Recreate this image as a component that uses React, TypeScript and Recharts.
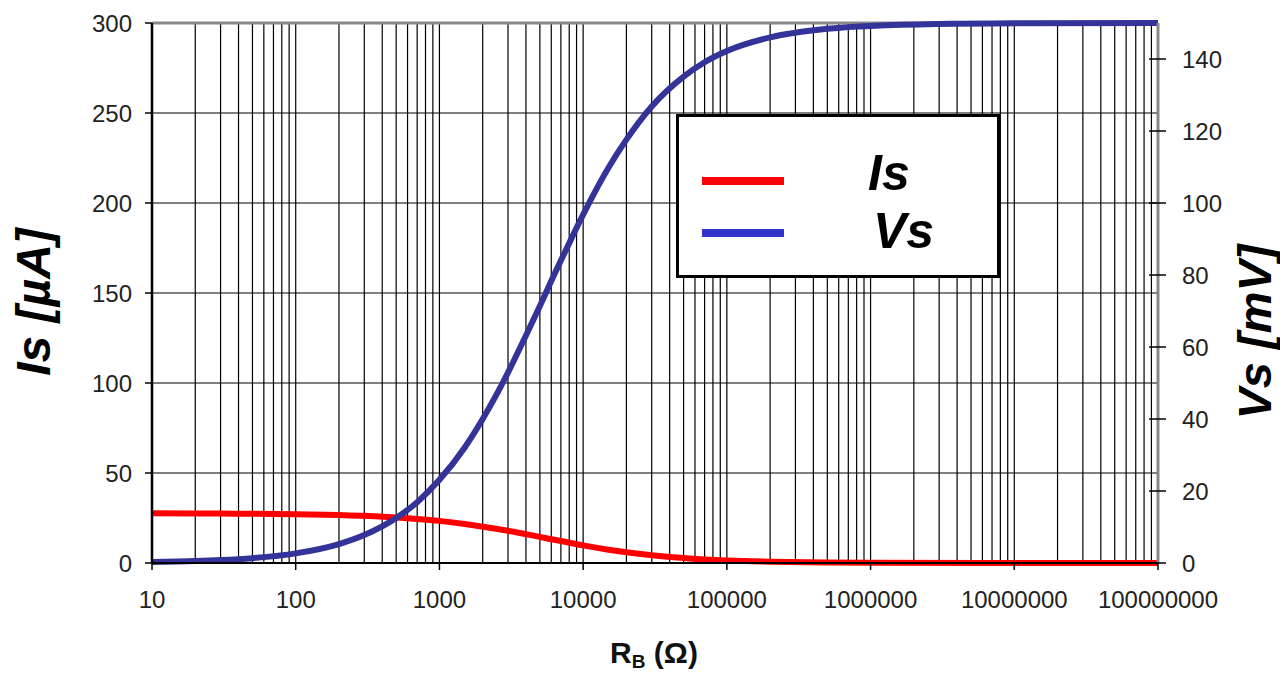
import React from "react";
import {
  LineChart,
  Line,
  XAxis,
  YAxis,
  CartesianGrid,
  ReferenceLine,
  Legend,
} from "recharts";

const R_VALUES = [10, 20, 30, 50, 100, 200, 300, 500, 700, 1000, 1500, 2000, 3000, 4000, 5000, 6000, 7000, 10000, 15000, 20000, 30000, 50000, 70000, 100000, 200000, 500000, 1000000, 10000000, 100000000];
const IS_VALUES = [27.6, 27.5, 27.45, 27.35, 27.1, 26.6, 26.2, 25.3, 24.5, 23.4, 21.7, 20.2, 17.9, 16.0, 14.5, 13.2, 12.2, 9.8, 7.4, 5.95, 4.28, 2.73, 2.01, 1.44, 0.74, 0.3, 0.15, 0.02, 0];
const VS_VALUES = [0.27, 0.54, 0.81, 1.35, 2.68, 5.26, 7.76, 12.5, 16.9, 23.1, 32.1, 40.0, 52.9, 63.2, 71.4, 78.3, 84.0, 96.8, 109.8, 117.6, 126.8, 135.1, 139.1, 142.2, 146.0, 148.4, 149.2, 149.9, 150];

const X_TICKS = [10, 100, 1000, 10000, 100000, 1000000, 10000000, 100000000];
const DECADES = [10, 100, 1000, 10000, 100000, 1000000, 10000000];
const MULTIPLIERS = [1, 2, 3, 4, 5, 6, 7, 8, 9];
const LEFT_TICKS = [0, 50, 100, 150, 200, 250, 300];
const RIGHT_TICKS = [0, 20, 40, 60, 80, 100, 120, 140];

const SERIES_NAMES = ["Is", "Vs"];
const LINE_COLORS = { Is: "#ff0000", Vs: "#333399" };
const LEGEND_COLORS = { Is: "#ff0000", Vs: "#3333cc" };

const data = R_VALUES.map((r, i) => ({ r, Is: IS_VALUES[i], Vs: VS_VALUES[i] }));
const GRID_TICKS = [...DECADES.flatMap((d) => MULTIPLIERS.map((m) => d * m)), 100000000];

const FONT = "'Liberation Sans', Arial, Helvetica, sans-serif";
const TICK_FONT = 24;
const RIGHT_TICK_SIZE = 8;
const RIGHT_TICK_MARGIN = 16;

const RightTick = (props: any) => {
  const { x, y, payload } = props;
  const ax = x - RIGHT_TICK_SIZE - RIGHT_TICK_MARGIN;
  return (
    <g>
      <line x1={ax - 9} x2={ax} y1={y} y2={y} stroke="#000" strokeWidth={1.5} />
      <text x={x} y={y} dy="0.355em" textAnchor="start" fontSize={TICK_FONT} fontFamily={FONT} fill="#222">
        {payload.value}
      </text>
    </g>
  );
};

const leftTitle = (props: any) => {
  const vb = props.viewBox || { x: 0, y: 15, width: 144, height: 540 };
  const cx = vb.x + 42;
  const cy = vb.y + vb.height / 2 + 9;
  return (
    <text
      x={cx}
      y={cy}
      transform={`rotate(-90 ${cx} ${cy})`}
      textAnchor="middle"
      fontSize={48}
      fontWeight="bold"
      fontStyle="italic"
      fontFamily={FONT}
      fill="#000"
    >
      Is [µA]
    </text>
  );
};

const rightTitle = (props: any) => {
  const vb = props.viewBox || { x: 1150, y: 15, width: 130, height: 540 };
  const cx = vb.x + 113;
  const cy = vb.y + vb.height / 2 + 39;
  return (
    <text
      x={cx}
      y={cy}
      transform={`rotate(-90 ${cx} ${cy})`}
      textAnchor="middle"
      fontSize={47}
      fontWeight="bold"
      fontStyle="italic"
      fontFamily={FONT}
      fill="#000"
    >
      Vs [mV]
    </text>
  );
};

const xTitle = (props: any) => {
  const vb = props.viewBox || { x: 144, y: 555, width: 1006, height: 133 };
  const cx = vb.x + vb.width / 2 - 1;
  const cy = vb.y + 100;
  return (
    <text x={cx} y={cy} textAnchor="middle" fontSize={30} fontWeight="bold" fontFamily={FONT} fill="#111">
      R
      <tspan dy={5} fontSize={19}>B</tspan>
      <tspan dy={-5}> (Ω)</tspan>
    </text>
  );
};

const LegendBox = () => (
  <div
    style={{
      position: "relative",
      width: 324,
      height: 164,
      boxSizing: "border-box",
      border: "3px solid #000",
      background: "#fff",
      fontFamily: FONT,
    }}
  >
    {SERIES_NAMES.map((name, i) => (
      <React.Fragment key={name}>
        <div
          style={{
            position: "absolute",
            left: 23,
            top: 60 + i * 52,
            width: 82,
            height: 8,
            background: (LEGEND_COLORS as any)[name],
          }}
        />
        <div
          style={{
            position: "absolute",
            left: 189 + i * 5,
            top: 31 + i * 58,
            fontSize: 50,
            lineHeight: "50px",
            fontWeight: "bold",
            fontStyle: "italic",
            color: "#000",
            whiteSpace: "nowrap",
          }}
        >
          {name}
        </div>
      </React.Fragment>
    ))}
  </div>
);

export default function App() {
  return (
    <div style={{ width: 1280, height: 688, background: "#fff" }}>
      <LineChart width={1280} height={688} data={data} margin={{ top: 15, right: 0, bottom: 0, left: 0 }}>
        <XAxis
          xAxisId="minor"
          dataKey="r"
          type="number"
          scale="log"
          domain={[10, 100000000]}
          ticks={GRID_TICKS}
          interval={0}
          allowDataOverflow
          hide
        />
        <CartesianGrid xAxisId="minor" yAxisId="left" stroke="#000" strokeWidth={1.2} />
        <XAxis
          xAxisId="main"
          dataKey="r"
          type="number"
          scale="log"
          domain={[10, 100000000]}
          ticks={X_TICKS}
          interval={0}
          allowDataOverflow
          height={133}
          tickFormatter={(v: number) => String(v)}
          tick={{ fontSize: TICK_FONT, fontFamily: FONT, fill: "#222" }}
          tickSize={7}
          tickMargin={21}
          axisLine={{ stroke: "#000", strokeWidth: 2 }}
          tickLine={{ stroke: "#000", strokeWidth: 1.5 }}
          label={xTitle}
        />
        <YAxis
          yAxisId="left"
          orientation="left"
          domain={[0, 300]}
          ticks={LEFT_TICKS}
          interval={0}
          width={144}
          tick={{ fontSize: TICK_FONT, fontFamily: FONT, fill: "#222" }}
          tickSize={7}
          tickMargin={13}
          axisLine={{ stroke: "#000", strokeWidth: 2.5 }}
          tickLine={{ stroke: "#000", strokeWidth: 1.5 }}
          label={leftTitle}
        />
        <YAxis
          yAxisId="right"
          orientation="right"
          domain={[0, 150]}
          ticks={RIGHT_TICKS}
          interval={0}
          width={130}
          tick={<RightTick />}
          tickSize={RIGHT_TICK_SIZE}
          tickMargin={RIGHT_TICK_MARGIN}
          axisLine={{ stroke: "#888", strokeWidth: 3 }}
          tickLine={{ stroke: "#000", strokeWidth: 1.5 }}
          label={rightTitle}
        />
        <ReferenceLine xAxisId="main" yAxisId="left" y={300} stroke="#888" strokeWidth={3} />
        <Line
          xAxisId="main"
          yAxisId="left"
          dataKey="Is"
          name="Is"
          type="monotone"
          stroke={LINE_COLORS.Is}
          strokeWidth={6}
          dot={false}
          isAnimationActive={false}
        />
        <Line
          xAxisId="main"
          yAxisId="right"
          dataKey="Vs"
          name="Vs"
          type="monotone"
          stroke={LINE_COLORS.Vs}
          strokeWidth={6}
          dot={false}
          isAnimationActive={false}
        />
        <Legend
          layout="horizontal"
          verticalAlign="middle"
          align="center"
          content={() => <LegendBox />}
          wrapperStyle={{ position: "absolute", left: 668, top: 106, width: 324, height: 164 }}
        />
      </LineChart>
    </div>
  );
}
